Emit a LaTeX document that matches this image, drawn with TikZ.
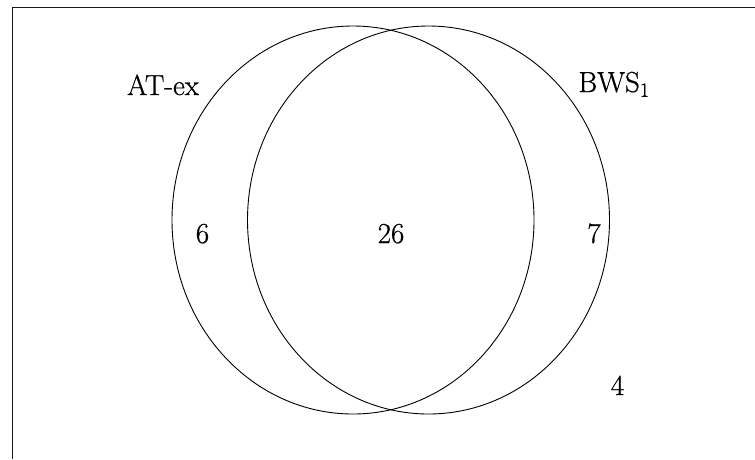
\documentclass[tikz,border=0pt]{standalone}
\usepackage{fontspec}
\setmainfont{Latin Modern Roman}
\newfontfamily\lblfont{Latin Modern Roman}[FakeBold=0.7]
\begin{document}
\begin{tikzpicture}[x=1pt,y=-1pt,
  setline/.style={line width=0.9pt, black},
  lbl/.style={font=\fontsize{29}{34}\lblfont, inner sep=0pt, anchor=base}]
\useasboundingbox (0,0) rectangle (755,459);
\draw[line width=1.6pt, black!90] (12.5,459) -- (12.5,7.5) -- (755,7.5);
\draw[setline] (353,220) ellipse [x radius=181, y radius=194];
\draw[setline] (428.5,220) ellipse [x radius=181, y radius=194];
\node[lbl] (ta) at (163,95) {AT-ex};
\node[lbl] (tb) at (614,92) {BWS\textsubscript{1}};
\node[lbl] (na) at (202.5,243) {6};
\node[lbl] (nab) at (391,243) {26};
\node[lbl] (nb) at (594,243) {7};
\node[lbl] (nout) at (617.5,395) {4};
\end{tikzpicture}
\end{document}
